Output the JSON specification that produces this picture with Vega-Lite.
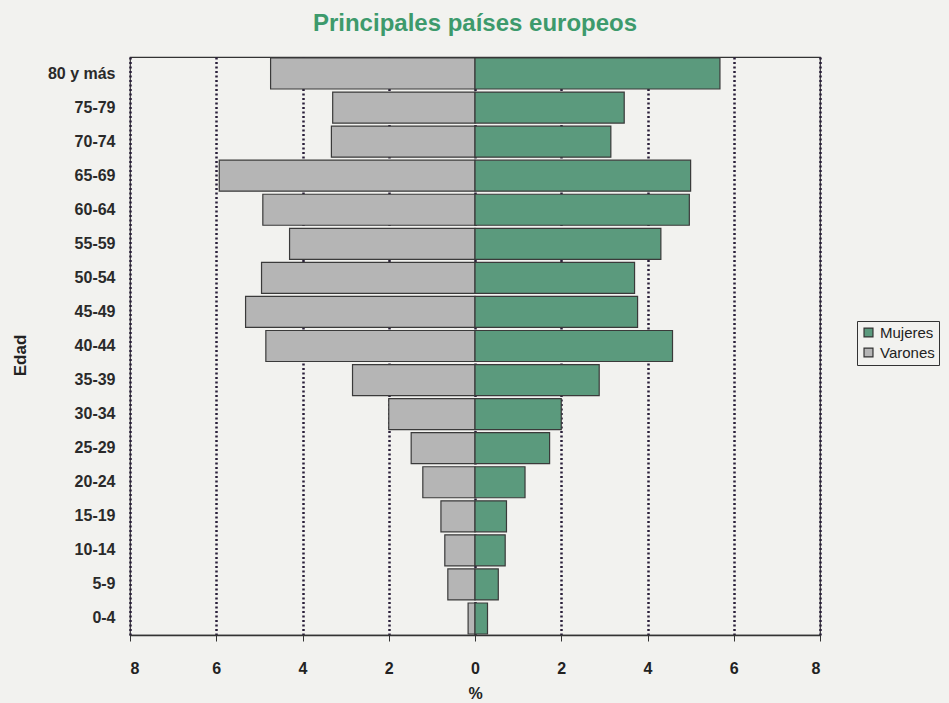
{
  "$schema": "https://vega.github.io/schema/vega-lite/v6.json",
  "autosize": "none",
  "padding": {"left": 130, "top": 57, "right": 129, "bottom": 68},
  "width": 690,
  "height": 578,
  "background": "#f2f2ef",
  "title": {
    "text": "Principales países europeos",
    "color": "#3d9a6c",
    "font": "Liberation Sans",
    "fontSize": 24,
    "fontWeight": "bold",
    "anchor": "middle",
    "offset": 21
  },
  "config": {
    "view": {"stroke": "#333333", "strokeWidth": 1.2},
    "font": "Liberation Sans"
  },
  "data": {
    "values": [
      {"edad": "80 y más", "sexo": "Varones", "pct": -4.74},
      {"edad": "75-79", "sexo": "Varones", "pct": -3.30},
      {"edad": "70-74", "sexo": "Varones", "pct": -3.33},
      {"edad": "65-69", "sexo": "Varones", "pct": -5.93},
      {"edad": "60-64", "sexo": "Varones", "pct": -4.92},
      {"edad": "55-59", "sexo": "Varones", "pct": -4.30},
      {"edad": "50-54", "sexo": "Varones", "pct": -4.95},
      {"edad": "45-49", "sexo": "Varones", "pct": -5.32},
      {"edad": "40-44", "sexo": "Varones", "pct": -4.85},
      {"edad": "35-39", "sexo": "Varones", "pct": -2.84},
      {"edad": "30-34", "sexo": "Varones", "pct": -2.00},
      {"edad": "25-29", "sexo": "Varones", "pct": -1.48},
      {"edad": "20-24", "sexo": "Varones", "pct": -1.21},
      {"edad": "15-19", "sexo": "Varones", "pct": -0.79},
      {"edad": "10-14", "sexo": "Varones", "pct": -0.70},
      {"edad": "5-9", "sexo": "Varones", "pct": -0.63},
      {"edad": "0-4", "sexo": "Varones", "pct": -0.16},
      {"edad": "80 y más", "sexo": "Mujeres", "pct": 5.68},
      {"edad": "75-79", "sexo": "Mujeres", "pct": 3.46},
      {"edad": "70-74", "sexo": "Mujeres", "pct": 3.15},
      {"edad": "65-69", "sexo": "Mujeres", "pct": 5.00},
      {"edad": "60-64", "sexo": "Mujeres", "pct": 4.97},
      {"edad": "55-59", "sexo": "Mujeres", "pct": 4.31},
      {"edad": "50-54", "sexo": "Mujeres", "pct": 3.70},
      {"edad": "45-49", "sexo": "Mujeres", "pct": 3.77},
      {"edad": "40-44", "sexo": "Mujeres", "pct": 4.58},
      {"edad": "35-39", "sexo": "Mujeres", "pct": 2.88},
      {"edad": "30-34", "sexo": "Mujeres", "pct": 2.00},
      {"edad": "25-29", "sexo": "Mujeres", "pct": 1.73},
      {"edad": "20-24", "sexo": "Mujeres", "pct": 1.16},
      {"edad": "15-19", "sexo": "Mujeres", "pct": 0.73},
      {"edad": "10-14", "sexo": "Mujeres", "pct": 0.70},
      {"edad": "5-9", "sexo": "Mujeres", "pct": 0.54},
      {"edad": "0-4", "sexo": "Mujeres", "pct": 0.29}
    ]
  },
  "mark": {"type": "bar", "stroke": "#3a3a3a", "strokeWidth": 1.2},
  "encoding": {
    "y": {
      "field": "edad",
      "type": "nominal",
      "sort": ["80 y más", "75-79", "70-74", "65-69", "60-64", "55-59", "50-54", "45-49", "40-44", "35-39", "30-34", "25-29", "20-24", "15-19", "10-14", "5-9", "0-4"],
      "scale": {"paddingInner": 0.09, "paddingOuter": 0.03},
      "axis": {
        "title": "Edad",
        "titleFont": "Liberation Sans",
        "titleFontSize": 17,
        "titleFontWeight": "bold",
        "titleColor": "#222222",
        "titleAngle": -90,
        "titleX": -110,
        "titleY": 298,
        "titleAlign": "center",
        "titleBaseline": "middle",
        "labelFontSize": 16,
        "labelFontWeight": "bold",
        "labelColor": "#2a2a2a",
        "labelPadding": 15,
        "ticks": false,
        "domain": false
      }
    },
    "x": {
      "field": "pct",
      "type": "quantitative",
      "scale": {"domain": [-8, 8], "nice": false, "zero": false},
      "axis": {
        "title": "%",
        "titleFontSize": 16,
        "titleFontWeight": "bold",
        "titleColor": "#222222",
        "titlePadding": 9,
        "values": [-8, -6, -4, -2, 0, 2, 4, 6, 8],
        "labelExpr": "abs(datum.value)",
        "labelFontSize": 16,
        "labelFontWeight": "bold",
        "labelColor": "#222222",
        "labelPadding": 19,
        "tickSize": 6,
        "tickColor": "#333333",
        "domainColor": "#333333",
        "domainWidth": 1.5,
        "grid": true,
        "gridColor": "#2a1f3a",
        "gridDash": [2, 2.5],
        "gridWidth": 2.5
      }
    },
    "color": {
      "field": "sexo",
      "type": "nominal",
      "scale": {"domain": ["Mujeres", "Varones"], "range": ["#5b9a7d", "#b5b5b5"]},
      "legend": {
        "title": null,
        "orient": "none",
        "legendX": 727,
        "legendY": 264,
        "symbolType": "square",
        "symbolSize": 80,
        "symbolStrokeColor": "#333333",
        "symbolStrokeWidth": 1.2,
        "labelFontSize": 15,
        "labelColor": "#222222",
        "strokeColor": "#333333",
        "padding": 4,
        "rowPadding": 4,
        "labelOffset": 4
      }
    }
  }
}
